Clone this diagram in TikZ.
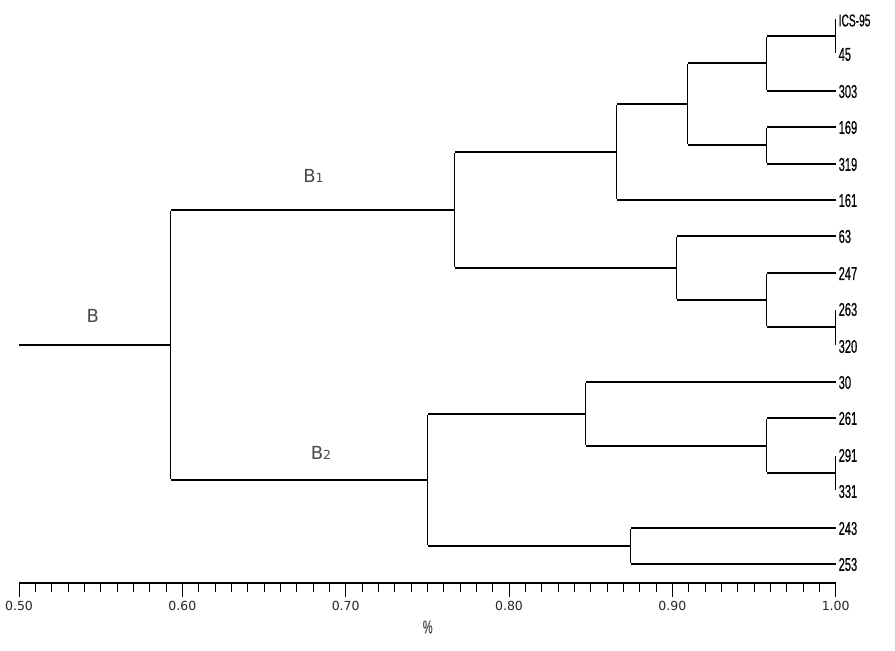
\documentclass[tikz,border=0pt]{standalone}
\usepackage{fontspec}
\setmainfont{DejaVu Sans}
\newfontfamily\leaffont[FakeStretch=0.6,FakeBold=0.5]{Liberation Sans}
\usetikzlibrary{calc}
\definecolor{labgray}{HTML}{4A4A4A}
\tikzset{
  hl/.style={line width=1.8pt},
  vl/.style={line width=1pt},
  leaf/.style={anchor=west, inner sep=0pt, font=\leaffont\fontsize{18.5}{18.5}\selectfont},
  clus/.style={inner sep=0pt, text=labgray, font=\fontsize{18}{18}\selectfont},
  axlab/.style={inner sep=0pt, text=black!85, font=\fontsize{12.5}{12.5}\selectfont},
}
\newcommand{\subdig}[1]{{\fontsize{12.5}{12.5}\selectfont #1}}
\begin{document}
\begin{tikzpicture}[x=1pt,y=-1pt]
\useasboundingbox (0,0) rectangle (895,651);
% leaves
\foreach \nm/\lab/\yy in {l2/45/54, l3/303/91, l4/169/127, l5/319/164, l6/161/200,
  l7/63/236, l8/247/273, l9/263/309, l10/320/346, l11/30/382, l12/261/418,
  l13/291/455, l14/331/491, l15/243/528, l16/253/564}{
  \coordinate (\nm) at (835.5,\yy);
  \node[leaf] (t\nm) at (838.5,\yy+0.5) {\lab};
}
\coordinate (l1) at (835.5,18);
\node[leaf, font=\leaffont\fontsize{17}{17}\selectfont] (tl1) at (838.5,20.5) {ICS-95};
% internal nodes
\coordinate (a1) at (835.5,36);
\coordinate (a2) at (766.5,63);
\coordinate (a3) at (766.5,145);
\coordinate (a4) at (687.5,104);
\coordinate (a5) at (616.5,152);
\coordinate (a6) at (835.5,327);
\coordinate (a7) at (766.5,300);
\coordinate (a8) at (676.5,268);
\coordinate (a9) at (454.5,210);
\coordinate (b1) at (835.5,473);
\coordinate (b2) at (766.5,446);
\coordinate (b3) at (585.5,414);
\coordinate (b4) at (630.5,546);
\coordinate (b5) at (427.5,480);
\coordinate (r) at (170.5,345);
\coordinate (r0) at (19,345);
% joins
\foreach \p/\ca/\cb in {a1/l1/l2, a2/a1/l3, a3/l4/l5, a4/a2/a3, a5/a4/l6, a6/l9/l10, a7/l8/a6,
  a8/l7/a7, a9/a5/a8, b1/l13/l14, b2/l12/b1, b3/l11/b2, b4/l15/l16, b5/b3/b4, r/a9/b5}{
  \draw[vl] ([yshift=-0.9pt]\ca -| \p) -- ([yshift=0.9pt]\cb -| \p);
  \draw[hl] (\ca) -- (\ca -| \p);
  \draw[hl] (\cb) -- (\cb -| \p);
}
\draw[hl] (r) -- (r0);
% cluster labels
\node[clus] (cB) at (92.7,315.7) {B};
\node[clus] (cB1) at (313.5,176) {B\subdig{1}};
\node[clus] (cB2) at (321,452.7) {B\subdig{2}};
% axis
\coordinate (ax0) at (18.5,583);
\coordinate (ax1) at (836,583);
\draw[line width=1.6pt] (ax0) -- (ax1);
\foreach \i in {0,...,50}{
  \pgfmathsetmacro{\xx}{19+\i*16.334}
  \pgfmathtruncatemacro{\mj}{mod(\i,10)==0 ? 1 : 0}
  \ifnum\mj=1
    \draw[line width=1pt] (\xx,583) -- (\xx,596.5);
  \else
    \draw[line width=1pt] (\xx,583) -- (\xx,591.7);
  \fi
}
\foreach \v/\lab in {0/0.50, 1/0.60, 2/0.70, 3/0.80, 4/0.90, 5/1.00}{
  \node[axlab] (ax\v) at ({19+\v*163.34},606) {\lab};
}
\node[leaf, anchor=center, text=black!70] (pct) at (427.7,627) {\%};
\end{tikzpicture}
\end{document}
